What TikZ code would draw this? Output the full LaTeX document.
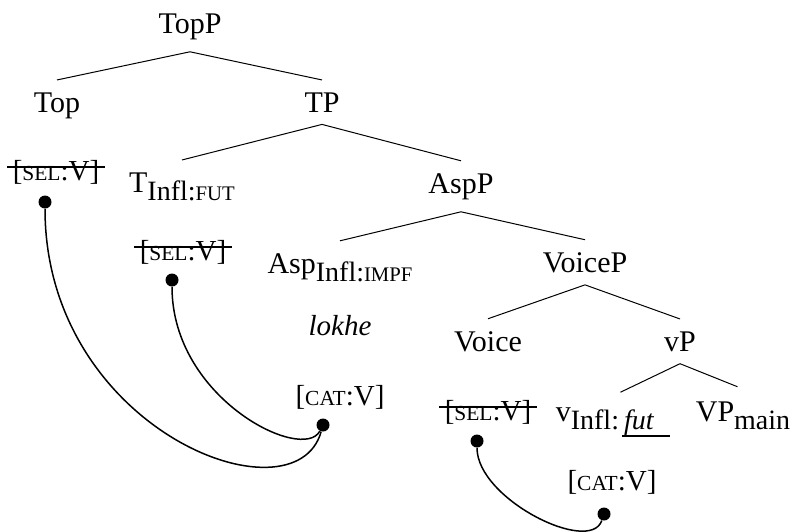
\documentclass[tikz,border=0pt]{standalone}
\usepackage{fontspec}
\setmainfont{Liberation Serif}
\usetikzlibrary{positioning}
\newcommand{\fsc}[1]{\scalebox{0.74}{#1}}
\newcommand{\sub}[1]{\raisebox{-4pt}{\fontsize{14}{14}\selectfont #1}}

\begin{document}
\begin{tikzpicture}[x=0.5pt, y=-0.5pt,
    lbl/.style={anchor=base, inner xsep=0pt, inner ysep=6pt, font=\fontsize{15}{18}\selectfont},
    feat/.style={anchor=base, inner xsep=1pt, inner ysep=0pt, font=\fontsize{14.5}{18}\selectfont},
    dot/.style={circle, fill, inner sep=0pt, minimum size=6.5pt},
    edge/.style={line width=0.5pt},
    agree/.style={line width=0.75pt},
    strike/.style={line width=1pt, shorten <=-1.5pt, shorten >=-1.5pt}
]
    \useasboundingbox (0,0) rectangle (791,531);

    % tree
    \node[lbl] (topp) at (190,33) {TopP};
    \node[lbl] (top) at (57,112) {Top};
    \node[lbl] (tp) at (322,112) {TP};
    \node[lbl] (t) at (182,192) {T\sub{Infl:\fsc{FUT}}};
    \node[lbl] (aspp) at (461,193) {AspP};
    \node[lbl] (asp) at (340,273) {Asp\sub{Infl:\fsc{IMPF}}};
    \node[lbl] (voicep) at (585,272) {VoiceP};
    \node[lbl] (voice) at (488,351) {Voice};
    \node[lbl] (vp) at (680,351) {vP};
    \node[lbl] (v) at (605,421) {v\sub{Infl:\hspace{2.5pt}\makebox[0pt][l]{\hspace{-1pt}\rule[-4pt]{24pt}{0.9pt}}\textit{fut}}\hspace{5pt}};
    \node[lbl] (vpmain) at (743,421) {VP\sub{main}};

    \draw[edge] (topp.south) -- (top.north);
    \draw[edge] (topp.south) -- (tp.north);
    \draw[edge] (tp.south) -- (t.north);
    \draw[edge] (tp.south) -- (aspp.north);
    \draw[edge] (aspp.south) -- (asp.north);
    \draw[edge] (aspp.south) -- (voicep.north);
    \draw[edge] (voicep.south) -- (voice.north);
    \draw[edge] (voicep.south) -- (vp.north);
    \draw[edge, shorten >=3pt] (vp.south) -- ([xshift=5pt]v.north);
    \draw[edge, shorten >=3pt] (vp.south) -- (vpmain.north);

    % features
    \node[feat] (seltop) at (56,180) {[\fsc{SEL}:V]};
    \node[feat] (selt) at (183,260) {[\fsc{SEL}:V]};
    \node[feat] (lokhe) at (340,335) {\textit{lokhe}};
    \node[feat] (catasp) at (340,405) {[\fsc{CAT}:V]};
    \node[feat] (selvoice) at (488,420) {[\fsc{SEL}:V]};
    \node[feat] (catv) at (612,490) {[\fsc{CAT}:V]};

    \draw[strike] ([yshift=6.5pt]seltop.base west) -- ([yshift=6.5pt]seltop.base east);
    \draw[strike] ([yshift=6.5pt]selt.base west) -- ([yshift=6.5pt]selt.base east);
    \draw[strike] ([yshift=6.5pt]selvoice.base west) -- ([yshift=6.5pt]selvoice.base east);

    % agreement links
    \node[dot] (dtop) at (45,202) {};
    \node[dot] (dt) at (172,280) {};
    \node[dot] (dasp) at (323,425) {};
    \node[dot] (dvoice) at (477,441) {};
    \node[dot] (dv) at (604,514) {};

    \draw[agree] (dtop) .. controls +(0,228) and +(-28,100) .. (dasp);
    \draw[agree] (dt) .. controls +(0,119) and +(-20,38) .. (dasp);
    \draw[agree] (dvoice) .. controls +(0,58) and +(-14,41) .. (dv);
\end{tikzpicture}
\end{document}
